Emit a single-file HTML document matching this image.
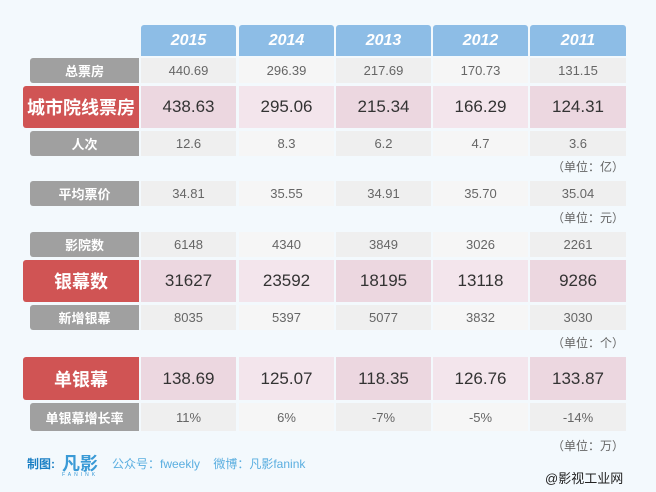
<!DOCTYPE html>
<html><head><meta charset="utf-8"><style>
body{margin:0;width:656px;height:492px;background:#f3f9fd;position:relative;overflow:hidden;font-family:"Liberation Sans","Noto Sans CJK SC",sans-serif}
.c{position:absolute;display:flex;align-items:center;justify-content:center;box-sizing:border-box}
.h{background:#8dbde6;color:#fff;font-weight:bold;font-style:italic;font-size:16px;border-radius:3px 3px 0 0}
.g{background:#a0a0a0;color:#fff;font-weight:bold;font-size:13px;border-radius:3px 0 0 3px;left:30px;width:109px}
.r{background:#d05454;color:#fff;font-weight:bold;font-size:18px;border-radius:3px 0 0 3px;left:23px;width:116px}
.v{color:#666;font-size:13px}
.a{background:#efefef}.b{background:#f6f6f6}
.pa{background:#ecd7e0}.pb{background:#f3e5ec}
.big{color:#333;font-size:17px}
.u{position:absolute;right:32px;font-size:12px;color:#666}
</style></head><body>
<div class="c h" style="left:141px;top:25px;width:95px;height:31px">2015</div>
<div class="c h" style="left:239px;top:25px;width:95px;height:31px">2014</div>
<div class="c h" style="left:336px;top:25px;width:95px;height:31px">2013</div>
<div class="c h" style="left:433px;top:25px;width:95px;height:31px">2012</div>
<div class="c h" style="left:530px;top:25px;width:96px;height:31px">2011</div>

<div id="rows"></div>
<script>
var rows=[
[58,25,'g','总票房',['440.69','296.39','217.69','170.73','131.15']],
[86,42,'r','城市院线票房',['438.63','295.06','215.34','166.29','124.31']],
[131,25,'g','人次',['12.6','8.3','6.2','4.7','3.6']],
[181,25,'g','平均票价',['34.81','35.55','34.91','35.70','35.04']],
[232,25,'g','影院数',['6148','4340','3849','3026','2261']],
[260,42,'r','银幕数',['31627','23592','18195','13118','9286']],
[305,25,'g','新增银幕',['8035','5397','5077','3832','3030']],
[357,43,'r','单银幕',['138.69','125.07','118.35','126.76','133.87']],
[403,28,'g','单银幕增长率',['11%','6%','-7%','-5%','-14%']]];
var L=[141,239,336,433,530],W=[95,95,95,95,96],h='';
rows.forEach(function(r){
 h+='<div class="c '+r[2]+'" style="top:'+r[0]+'px;height:'+r[1]+'px">'+r[3]+'</div>';
 r[4].forEach(function(v,i){
  var cls=r[2]=='r'?(i%2?'pb':'pa')+' big':(i%2?'b':'a')+' v';
  h+='<div class="c '+cls+'" style="left:'+L[i]+'px;width:'+W[i]+'px;top:'+r[0]+'px;height:'+r[1]+'px">'+v+'</div>';
 });
});
document.getElementById('rows').innerHTML=h;
</script>
<div class="u" style="top:158px">（单位：亿）</div>
<div class="u" style="top:209px">（单位：元）</div>
<div class="u" style="top:334px">（单位：个）</div>
<div class="u" style="top:437px">（单位：万）</div>
<div style="position:absolute;left:27px;top:455px;font-size:12px;color:#1a7fc4;font-weight:bold">制图:</div>
<div style="position:absolute;left:62px;top:450px;font-size:18px;color:#3a9ad6;font-weight:bold">凡影</div>
<div style="position:absolute;left:62px;top:472px;font-size:5px;color:#3a9ad6;letter-spacing:3px">FANINK</div>
<div style="position:absolute;left:112px;top:455px;font-size:12px;color:#5aaee0">公众号：fweekly&nbsp;&nbsp;&nbsp;&nbsp;微博：凡影fanink</div>
<div style="position:absolute;left:545px;top:468px;font-size:13px;color:#222">@影视工业网</div>
</body></html>
